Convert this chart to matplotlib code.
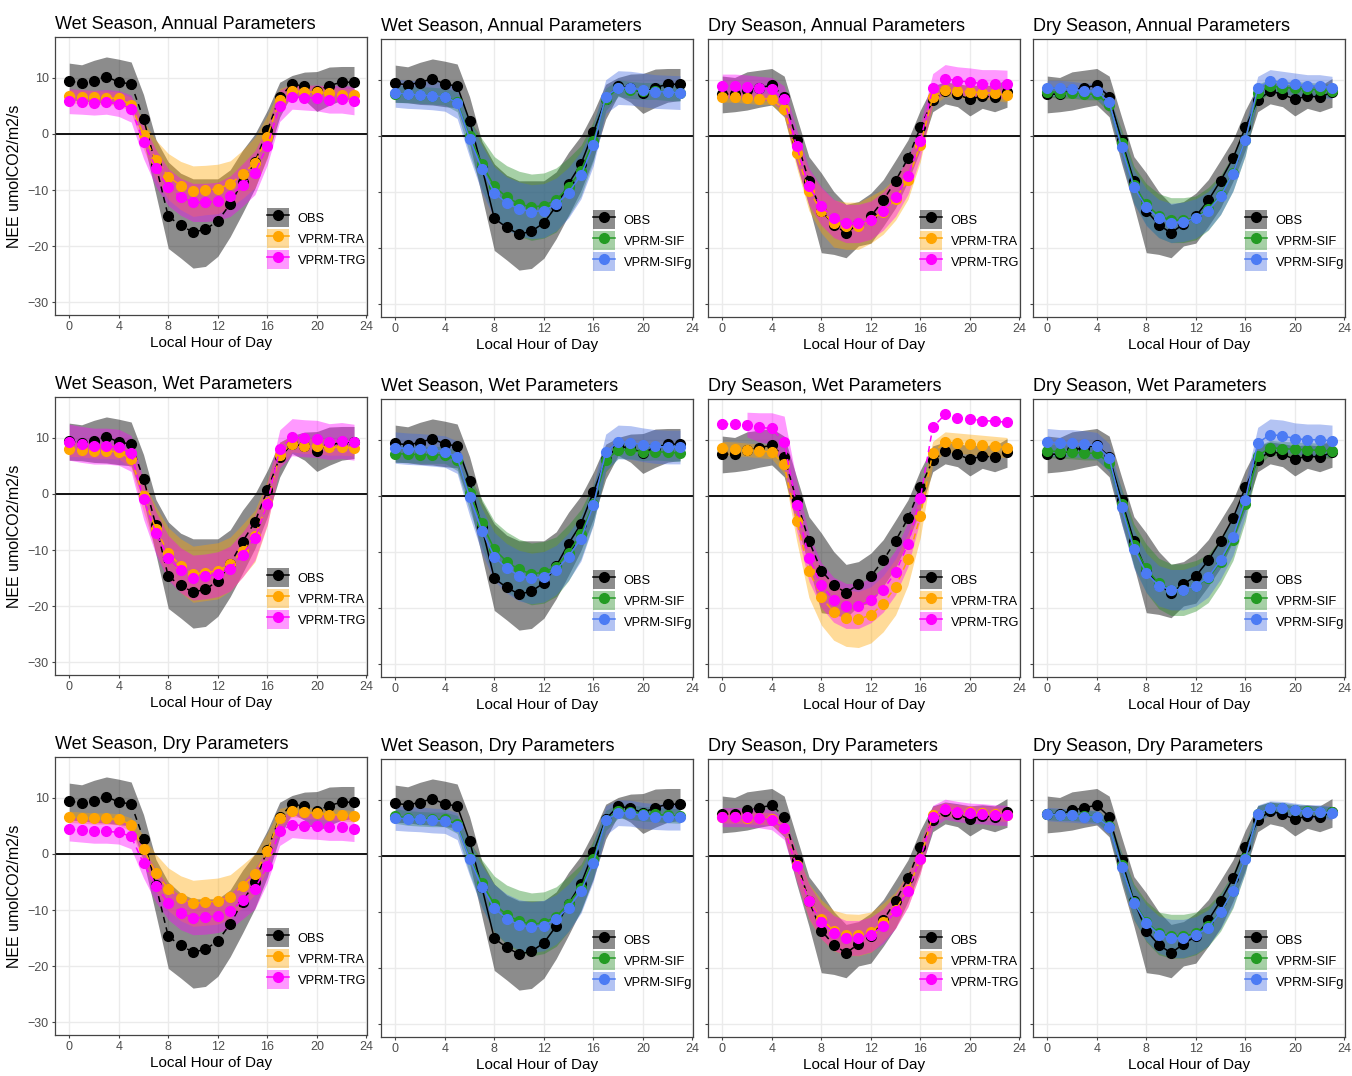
import numpy as np
import matplotlib.pyplot as plt
from matplotlib.patches import Patch
from matplotlib.lines import Line2D
from matplotlib.legend_handler import HandlerTuple

plt.rcParams['font.family'] = ['Liberation Sans', 'DejaVu Sans']

hours = np.arange(24)

# observed NEE (mean and ribbon), wet and dry season
obs_wet = [9.35, 9.1, 9.5, 10.2, 9.2, 8.9, 2.7, -5.6, -14.7, -16.3, -17.5, -17.0,
           -15.5, -12.5, -8.5, -5.0, 0.65, 6.5, 8.9, 8.45, 7.7, 8.6, 9.2, 9.2]
obs_wet_hi = [12.6, 12.3, 13.1, 13.7, 13.3, 12.8, 7.0, -1.0, -5.0, -7.0, -8.0, -8.0,
              -8.0, -6.4, -2.9, 0.0, 4.2, 9.2, 10.4, 11.0, 11.1, 11.9, 12.0, 12.0]
obs_wet_lo = [6.0, 5.9, 5.6, 5.5, 5.2, 5.0, -1.3, -10.8, -20.4, -22.1, -23.9, -23.6,
              -21.8, -18.3, -14.1, -9.7, -4.1, 3.0, 7.2, 6.0, 4.0, 5.1, 6.0, 6.3]

obs_dry = [7.45, 7.4, 8.1, 8.6, 9.0, 7.0, -0.7, -8.0, -13.3, -15.8, -17.3, -15.7,
           -14.3, -11.5, -8.0, -4.0, 1.5, 6.3, 8.0, 7.4, 6.5, 7.1, 6.9, 7.75]
obs_dry_hi = [10.65, 10.4, 11.4, 11.7, 12.0, 10.65, 3.4, -3.7, -6.6, -9.9, -12.2, -11.7,
              -10.2, -7.8, -4.3, -0.7, 4.6, 8.9, 9.6, 9.3, 8.9, 9.1, 8.9, 10.2]
obs_dry_lo = [4.1, 4.3, 4.6, 5.1, 5.5, 3.4, -4.9, -12.5, -20.8, -21.1, -21.7, -19.6,
              -19.1, -16.1, -12.8, -8.1, -2.5, 4.3, 5.7, 5.2, 3.55, 4.9, 4.3, 5.1]

# VPRM-TRA / VPRM-TRG
tra_wet_ann = [6.7, 6.6, 6.5, 6.4, 6.3, 5.2, -0.2, -4.6, -7.6, -9.2, -10.2, -10.0,
               -9.8, -8.9, -7.2, -5.1, -0.5, 6.1, 7.6, 7.5, 7.4, 7.2, 7.0, 6.9]
tra_wet_ann_sd = [1.2, 1.2, 1.2, 1.2, 1.2, 1.3, 2.5, 3.5, 4.1, 4.3, 4.5, 4.4,
                  4.4, 4.1, 4.3, 4.5, 3.8, 2.0, 1.2, 1.2, 1.2, 1.2, 1.2, 1.2]
trg_wet_ann = [5.8, 5.7, 5.55, 5.7, 5.4, 4.5, -1.4, -6.1, -9.5, -11.2, -12.2, -12.2,
               -12.0, -11.1, -9.1, -6.9, -2.1, 5.0, 6.6, 6.45, 6.4, 6.1, 6.2, 5.9]
trg_wet_ann_sd = [2.2, 2.2, 2.2, 2.2, 2.3, 2.4, 3.0, 3.3, 3.3, 3.3, 3.4, 3.4,
                  3.4, 3.6, 3.8, 3.9, 3.4, 2.8, 2.2, 2.2, 2.3, 2.4, 2.5, 2.5]

tra_wet_wet = [8.0, 7.9, 7.7, 7.6, 7.5, 6.2, -0.4, -6.3, -10.5, -12.8, -14.3, -14.0,
               -13.7, -12.5, -10.1, -7.5, -1.6, 7.0, 8.9, 8.6, 8.5, 8.3, 8.3, 8.2]
tra_wet_wet_sd = [1.3, 1.3, 1.3, 1.3, 1.3, 1.5, 2.8, 4.0, 4.5, 4.8, 5.0, 5.0,
                  5.0, 4.8, 4.7, 4.6, 4.0, 2.2, 1.4, 1.4, 1.4, 1.4, 1.4, 1.4]
trg_wet_wet = [9.2, 8.8, 8.5, 8.5, 8.3, 7.2, -1.0, -7.0, -11.4, -13.6, -14.9, -14.7,
               -14.3, -13.3, -10.8, -7.8, -1.8, 8.0, 10.1, 9.9, 9.8, 9.3, 9.5, 9.2]
trg_wet_wet_sd = [3.2, 3.2, 3.2, 3.2, 3.2, 3.2, 3.5, 3.8, 4.0, 4.0, 4.0, 4.0,
                  4.0, 4.0, 4.0, 4.0, 3.6, 3.4, 3.3, 3.3, 3.3, 3.2, 3.2, 3.2]

tra_wet_dry = [6.6, 6.45, 6.3, 6.3, 6.15, 5.2, 0.8, -3.4, -6.3, -7.9, -8.8, -8.6,
               -8.4, -7.6, -5.7, -3.6, 0.5, 6.3, 7.6, 7.4, 7.2, 7.0, 6.9, 6.7]
tra_wet_dry_sd = [1.0, 1.0, 1.0, 1.0, 1.0, 1.2, 2.4, 3.3, 3.8, 4.0, 4.1, 4.1,
                  4.1, 3.9, 3.8, 3.6, 3.2, 1.8, 1.0, 1.0, 1.0, 1.0, 1.0, 1.0]
trg_wet_dry = [4.4, 4.2, 4.0, 4.0, 3.85, 3.1, -1.7, -5.7, -8.7, -10.5, -11.4, -11.3,
               -11.0, -10.2, -8.3, -6.2, -2.1, 4.1, 5.2, 5.0, 4.9, 4.7, 4.7, 4.5]
trg_wet_dry_sd = [2.1, 2.1, 2.1, 2.1, 2.1, 2.2, 2.6, 2.9, 3.0, 3.0, 3.0, 3.0,
                  3.0, 3.1, 3.3, 3.6, 3.0, 2.6, 2.3, 2.3, 2.3, 2.3, 2.3, 2.3]

tra_dry_ann = [7.0, 7.0, 6.8, 6.6, 6.6, 4.7, -3.1, -9.8, -13.3, -15.6, -16.0, -16.0,
               -14.9, -13.5, -11.2, -7.8, -1.6, 6.9, 8.2, 8.0, 7.8, 7.7, 7.6, 7.2]
tra_dry_ann_sd = [1.0, 1.0, 1.0, 1.0, 1.0, 1.3, 2.5, 3.5, 4.0, 4.2, 4.2, 4.2,
                  4.2, 4.0, 3.8, 3.5, 3.0, 1.5, 1.2, 1.2, 1.2, 1.2, 1.2, 1.2]
trg_dry_ann = [8.9, 8.9, 8.75, 8.5, 8.3, 6.5, -1.8, -9.0, -12.5, -14.7, -15.6, -15.6,
               -15.0, -13.4, -10.9, -7.1, -0.9, 8.5, 10.2, 9.8, 9.6, 9.3, 9.3, 9.2]
trg_dry_ann_sd = [2.1, 2.1, 2.1, 2.1, 2.1, 2.4, 3.0, 3.3, 3.4, 3.4, 3.4, 3.4,
                  3.4, 3.4, 3.4, 3.3, 3.0, 2.6, 2.5, 2.5, 2.5, 2.5, 2.5, 2.5]

tra_dry_wet = [8.5, 8.4, 8.2, 8.0, 7.8, 5.6, -4.4, -13.3, -18.0, -20.7, -21.8, -22.0,
               -21.2, -19.2, -16.2, -11.3, -3.6, 7.7, 9.6, 9.4, 9.2, 9.0, 8.8, 8.6]
tra_dry_wet_sd = [1.2, 1.2, 1.2, 1.2, 1.2, 1.6, 3.5, 4.8, 5.0, 5.0, 5.0, 5.0,
                  5.0, 5.0, 5.0, 4.6, 3.8, 2.0, 1.8, 1.8, 1.8, 1.8, 1.8, 1.8]
trg_dry_wet = [12.8, 12.8, 12.7, 12.2, 12.0, 9.6, -1.7, -11.0, -15.9, -18.5, -19.6, -19.6,
               -18.6, -16.7, -13.6, -8.6, -0.4, 12.2, 14.5, 13.9, 13.7, 13.4, 13.3, 13.1]
trg_dry_wet_sd = [2.6, 2.6, 2.2, 2.6, 2.8, 4.6, 4.5, 4.2, 4.0, 4.0, 4.0, 4.0,
                  4.0, 4.0, 4.0, 4.0, 3.8, 3.2, 3.0, 3.0, 3.0, 3.0, 3.0, 3.0]

tra_dry_dry = [7.0, 6.9, 6.8, 6.7, 6.6, 5.0, -1.7, -8.1, -11.3, -13.3, -14.0, -14.1,
               -13.6, -11.8, -9.6, -6.0, -0.5, 7.2, 8.3, 7.9, 7.75, 7.6, 7.5, 7.3]
tra_dry_dry_sd = [1.1, 1.1, 1.1, 1.1, 1.1, 1.4, 2.5, 3.2, 3.5, 3.6, 3.7, 3.7,
                  3.6, 3.4, 3.2, 3.0, 2.6, 1.5, 1.2, 1.2, 1.2, 1.2, 1.2, 1.2]
trg_dry_dry = [6.9, 6.9, 6.9, 6.7, 6.45, 4.9, -1.8, -8.1, -11.7, -13.7, -14.6, -14.6,
               -14.0, -12.5, -9.9, -6.2, -0.5, 7.0, 8.3, 7.9, 7.6, 7.5, 7.3, 7.2]
trg_dry_dry_sd = [1.7, 1.7, 1.7, 1.7, 1.8, 2.0, 2.6, 3.0, 3.1, 3.1, 3.1, 3.1,
                  3.1, 3.1, 3.0, 2.9, 2.6, 2.0, 1.8, 1.8, 1.8, 1.8, 1.8, 1.8]

# VPRM-SIF / VPRM-SIFg
sif_wet_ann = [7.45, 7.4, 7.3, 7.15, 7.0, 6.1, -0.1, -5.0, -9.0, -10.9, -12.1, -12.7,
               -12.4, -11.4, -9.1, -6.2, -1.0, 6.5, 8.5, 8.2, 8.0, 8.0, 7.8, 7.7]
sif_wet_ann_sd = [1.5, 1.5, 1.5, 1.5, 1.5, 1.8, 3.0, 4.5, 5.3, 5.6, 5.8, 5.9,
                  5.8, 5.7, 5.2, 4.5, 3.5, 2.0, 1.5, 1.5, 1.5, 1.5, 1.5, 1.5]
sifg_wet_ann = [7.6, 7.4, 7.3, 7.15, 7.0, 5.9, -0.5, -5.9, -10.1, -12.0, -13.0, -13.5,
                -13.3, -12.2, -10.1, -7.0, -1.7, 7.0, 8.6, 8.5, 8.2, 7.9, 7.8, 7.7]
sifg_wet_ann_sd = [2.5, 2.5, 2.5, 2.5, 2.6, 2.8, 3.3, 4.2, 4.6, 4.7, 4.8, 4.8,
                   4.8, 4.7, 4.5, 4.2, 3.6, 3.0, 3.0, 3.0, 3.0, 3.0, 3.0, 3.0]

sif_wet_wet = [7.5, 7.45, 7.3, 7.3, 7.3, 6.3, 0.5, -4.9, -9.5, -11.7, -13.1, -13.9,
               -13.6, -12.6, -10.1, -6.8, -1.5, 6.3, 8.2, 8.1, 7.8, 7.9, 7.75, 7.6]
sif_wet_wet_sd = [1.5, 1.5, 1.5, 1.5, 1.5, 1.8, 3.0, 4.3, 5.0, 5.3, 5.4, 5.5,
                  5.5, 5.3, 5.0, 4.4, 3.5, 2.0, 1.5, 1.5, 1.5, 1.5, 1.5, 1.5]
sifg_wet_wet = [8.6, 8.4, 8.3, 8.1, 7.9, 6.9, -0.2, -6.2, -10.8, -12.9, -14.2, -14.7,
                -14.4, -13.2, -10.8, -7.6, -1.7, 7.8, 9.6, 9.5, 9.1, 8.8, 8.7, 8.7]
sifg_wet_wet_sd = [2.8, 2.8, 2.8, 2.8, 2.8, 2.9, 3.3, 4.0, 4.3, 4.4, 4.5, 4.5,
                   4.5, 4.4, 4.2, 4.0, 3.5, 3.2, 3.0, 3.0, 3.0, 3.0, 3.0, 3.0]

sif_wet_dry = [7.1, 6.75, 6.6, 6.5, 6.5, 5.6, -0.3, -4.9, -8.6, -10.5, -11.6, -12.2,
               -11.9, -10.8, -8.5, -5.7, -0.6, 6.3, 8.0, 7.8, 7.5, 7.4, 7.2, 7.1]
sif_wet_dry_sd = [1.3, 1.3, 1.3, 1.3, 1.3, 1.6, 2.8, 4.2, 5.0, 5.3, 5.5, 5.6,
                  5.5, 5.3, 4.9, 4.2, 3.3, 1.8, 1.3, 1.3, 1.3, 1.3, 1.3, 1.3]
sifg_wet_dry = [6.75, 6.6, 6.5, 6.3, 6.2, 5.3, -0.5, -5.5, -9.3, -11.2, -12.3, -12.7,
                -12.4, -11.3, -9.2, -6.3, -1.2, 6.3, 7.7, 7.6, 7.2, 7.0, 6.9, 6.9]
sifg_wet_dry_sd = [2.2, 2.2, 2.2, 2.2, 2.2, 2.4, 3.0, 3.8, 4.2, 4.4, 4.5, 4.5,
                   4.5, 4.4, 4.2, 3.9, 3.3, 2.6, 2.3, 2.3, 2.3, 2.3, 2.3, 2.3]

sif_dry_ann = [7.9, 7.7, 7.7, 7.45, 7.4, 5.5, -1.3, -8.7, -12.2, -14.2, -15.0, -15.0,
               -14.6, -13.0, -10.5, -6.6, -0.7, 7.6, 8.9, 8.6, 8.5, 8.3, 8.2, 8.0]
sif_dry_ann_sd = [1.0, 1.0, 1.0, 1.0, 1.0, 1.3, 2.5, 3.3, 3.7, 3.9, 4.0, 4.0,
                  3.9, 3.8, 3.5, 3.2, 2.8, 1.6, 1.2, 1.2, 1.2, 1.2, 1.2, 1.2]
sifg_dry_ann = [8.5, 8.5, 8.3, 8.0, 8.0, 6.0, -2.0, -9.1, -12.7, -14.7, -15.5, -15.3,
                -14.7, -13.3, -10.7, -6.7, -0.7, 8.5, 9.8, 9.5, 9.2, 8.9, 8.9, 8.6]
sifg_dry_ann_sd = [1.4, 1.4, 1.4, 1.4, 1.4, 1.6, 2.4, 3.0, 3.3, 3.4, 3.5, 3.5,
                   3.5, 3.4, 3.3, 3.1, 2.7, 2.1, 2.0, 2.0, 2.0, 2.0, 2.0, 2.0]

sif_dry_wet = [8.0, 7.9, 7.8, 7.6, 7.6, 5.9, -1.4, -8.8, -12.9, -15.6, -16.7, -16.7,
               -16.0, -14.7, -11.7, -7.9, -1.5, 7.1, 8.6, 8.4, 8.3, 8.2, 8.1, 8.0]
sif_dry_wet_sd = [1.2, 1.2, 1.2, 1.2, 1.2, 1.5, 2.8, 3.8, 4.3, 4.5, 4.6, 4.6,
                  4.5, 4.3, 4.0, 3.6, 3.0, 1.8, 1.3, 1.3, 1.3, 1.3, 1.3, 1.3]
sifg_dry_wet = [9.6, 9.4, 9.4, 9.2, 8.9, 6.8, -2.0, -9.5, -13.7, -16.0, -16.7, -16.7,
                -16.0, -14.5, -11.4, -7.3, -0.65, 9.4, 10.9, 10.7, 10.2, 10.0, 10.0, 9.8]
sifg_dry_wet_sd = [2.4, 2.4, 2.4, 2.4, 2.4, 2.5, 3.0, 3.4, 3.5, 3.6, 3.6, 3.6,
                   3.6, 3.5, 3.4, 3.3, 3.0, 2.8, 2.8, 2.8, 2.8, 2.8, 2.8, 2.8]

sif_dry_dry = [7.45, 7.3, 7.3, 7.1, 7.0, 5.3, -1.7, -8.2, -11.7, -13.8, -14.3, -14.3,
               -13.8, -12.5, -10.0, -6.2, -0.4, 7.45, 8.6, 8.5, 8.2, 8.0, 7.9, 7.75]
sif_dry_dry_sd = [1.0, 1.0, 1.0, 1.0, 1.0, 1.3, 2.4, 3.2, 3.6, 3.8, 3.9, 3.9,
                  3.8, 3.6, 3.4, 3.1, 2.6, 1.5, 1.0, 1.0, 1.0, 1.0, 1.0, 1.0]
sifg_dry_dry = [7.45, 7.3, 7.2, 7.0, 6.9, 5.2, -1.9, -8.4, -11.9, -14.0, -14.7, -14.7,
                -14.1, -12.8, -10.0, -6.2, -0.5, 7.45, 8.6, 8.5, 8.2, 7.9, 7.9, 7.6]
sifg_dry_dry_sd = [1.2, 1.2, 1.2, 1.2, 1.2, 1.4, 2.2, 2.9, 3.2, 3.3, 3.4, 3.4,
                   3.3, 3.2, 3.0, 2.8, 2.4, 1.6, 1.2, 1.2, 1.2, 1.2, 1.2, 1.2]

row_names = ['Annual', 'Wet', 'Dry']
col_season = ['Wet', 'Wet', 'Dry', 'Dry']
col_models = ['TR', 'SIF', 'TR', 'SIF']

models = {
    ('Wet', 'Annual', 'TR'): (tra_wet_ann, tra_wet_ann_sd, trg_wet_ann, trg_wet_ann_sd),
    ('Wet', 'Wet', 'TR'): (tra_wet_wet, tra_wet_wet_sd, trg_wet_wet, trg_wet_wet_sd),
    ('Wet', 'Dry', 'TR'): (tra_wet_dry, tra_wet_dry_sd, trg_wet_dry, trg_wet_dry_sd),
    ('Dry', 'Annual', 'TR'): (tra_dry_ann, tra_dry_ann_sd, trg_dry_ann, trg_dry_ann_sd),
    ('Dry', 'Wet', 'TR'): (tra_dry_wet, tra_dry_wet_sd, trg_dry_wet, trg_dry_wet_sd),
    ('Dry', 'Dry', 'TR'): (tra_dry_dry, tra_dry_dry_sd, trg_dry_dry, trg_dry_dry_sd),
    ('Wet', 'Annual', 'SIF'): (sif_wet_ann, sif_wet_ann_sd, sifg_wet_ann, sifg_wet_ann_sd),
    ('Wet', 'Wet', 'SIF'): (sif_wet_wet, sif_wet_wet_sd, sifg_wet_wet, sifg_wet_wet_sd),
    ('Wet', 'Dry', 'SIF'): (sif_wet_dry, sif_wet_dry_sd, sifg_wet_dry, sifg_wet_dry_sd),
    ('Dry', 'Annual', 'SIF'): (sif_dry_ann, sif_dry_ann_sd, sifg_dry_ann, sifg_dry_ann_sd),
    ('Dry', 'Wet', 'SIF'): (sif_dry_wet, sif_dry_wet_sd, sifg_dry_wet, sifg_dry_wet_sd),
    ('Dry', 'Dry', 'SIF'): (sif_dry_dry, sif_dry_dry_sd, sifg_dry_dry, sifg_dry_dry_sd),
}
obs = {'Wet': (obs_wet, obs_wet_lo, obs_wet_hi), 'Dry': (obs_dry, obs_dry_lo, obs_dry_hi)}

styles = {
    'TR': [('VPRM-TRA', '#FFA500', '#FFA500'), ('VPRM-TRG', '#FF00FF', '#FF00FF')],
    'SIF': [('VPRM-SIF', '#239B23', '#228B22'), ('VPRM-SIFg', '#4C7BF4', '#4169E1')],
}

YMIN, YMAX = -30, 15
MS = 7


def ribbon(ax, lo, hi, color, alpha):
    lo = np.asarray(lo, float)
    hi = np.asarray(hi, float)
    # values outside the scale limits are dropped, as ggplot does
    bad = (hi > YMAX) | (lo < YMIN)
    ax.fill_between(hours, np.where(bad, np.nan, lo), np.where(bad, np.nan, hi),
                    color=color, alpha=alpha, lw=0)


W, H = 1352, 1076
fig = plt.figure(figsize=(W / 100, H / 100), dpi=100)
col_left = [55, 381, 708, 1033]
col_shift = [0, 2, 2, 2]
row_top = [37, 397, 757]
pw, ph = 312, 278

for r, par in enumerate(row_names):
    for c in range(4):
        season = col_season[c]
        kind = col_models[c]
        top = row_top[r] + col_shift[c]
        ax = fig.add_axes([col_left[c] / W, 1 - (top + ph) / H, pw / W, ph / H])
        ls = (0, (4, 3)) if kind == 'TR' else '-'

        m1, s1, m2, s2 = models[(season, par, kind)]
        om, olo, ohi = obs[season]
        (n1, c1, f1), (n2, c2, f2) = styles[kind]

        ribbon(ax, olo, ohi, 'black', 0.45)
        ribbon(ax, np.array(m1) - s1, np.array(m1) + s1, f1, 0.4)
        ribbon(ax, np.array(m2) - s2, np.array(m2) + s2, f2, 0.4)

        ax.axhline(0, color='black', lw=1.3, zorder=2)
        ax.plot(hours, om, color='black', ls=ls, lw=1.1, marker='o', ms=MS, zorder=3)
        ax.plot(hours, m1, color=c1, ls=ls, lw=1.1, marker='o', ms=MS, zorder=4)
        ax.plot(hours, m2, color=c2, ls=ls, lw=1.1, marker='o', ms=MS, zorder=5)

        ax.set_xlim(-1.15, 24.05)
        ax.set_ylim(-32.25, 17.25)
        ax.set_xticks([0, 4, 8, 12, 16, 20, 24])
        ax.set_yticks([-30, -20, -10, 0, 10])
        ax.grid(True, color='#EBEBEB', lw=1.0)
        ax.set_axisbelow(True)
        for sp in ax.spines.values():
            sp.set_color('#444444')
            sp.set_linewidth(0.9)
        ax.tick_params(length=2.5, width=0.8, color='#444444', labelsize=9,
                       labelcolor='#4D4D4D', pad=2)
        if c > 0:
            ax.set_yticklabels([])
        else:
            ax.set_ylabel('NEE umolCO2/m2/s', fontsize=11.5, labelpad=4)
        ax.set_xlabel('Local Hour of Day', fontsize=11, labelpad=2)
        ax.set_title(f'{season} Season, {par} Parameters', loc='left', fontsize=13, pad=6)

        handles = [
            (Patch(facecolor='black', alpha=0.45, lw=0),
             Line2D([], [], color='black', marker='o', ms=MS, lw=1.1)),
            (Patch(facecolor=f1, alpha=0.4, lw=0),
             Line2D([], [], color=c1, marker='o', ms=MS, lw=1.1)),
            (Patch(facecolor=f2, alpha=0.4, lw=0),
             Line2D([], [], color=c2, marker='o', ms=MS, lw=1.1)),
        ]
        ax.legend(handles, ['OBS', n1, n2],
                  handler_map={tuple: HandlerTuple(ndivide=1, pad=0)},
                  loc='upper left', bbox_to_anchor=(0.678, 0.385), frameon=False,
                  fontsize=9.3, handlelength=1.75, handleheight=1.9, labelspacing=0.16,
                  handletextpad=0.65, borderpad=0, borderaxespad=0)

fig.savefig('out.png', dpi=100)
